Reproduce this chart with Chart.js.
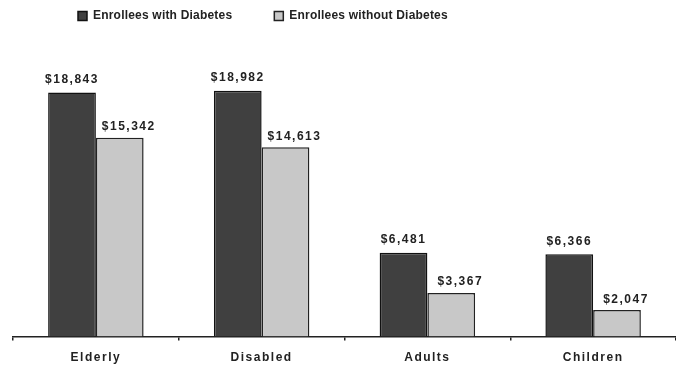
<!DOCTYPE html>
<html>
<head>
<meta charset="utf-8">
<script src="https://cdn.jsdelivr.net/npm/chart.js@4/dist/chart.umd.min.js"></script>
<style>
  html, body { margin: 0; padding: 0; background: #fff; }
  #wrap { width: 676px; height: 368px; position: relative; }
</style>
</head>
<body>
<div id="wrap"><canvas id="c"></canvas></div>
<script>
const categories = ["Elderly", "Disabled", "Adults", "Children"];
const seriesNames = ["Enrollees with Diabetes", "Enrollees without Diabetes"];
const withDiabetes = [18843, 18982, 6481, 6366];
const withoutDiabetes = [15342, 14613, 3367, 2047];

const FONT = "Arial, 'Liberation Sans', sans-serif";

// label placement per series: [horizontal shift, gap above bar]
const labelShift = [[0, 9.5], [9, 7.5]];

const spacingPlugin = {
  id: 'spacing',
  beforeUpdate(chart) { chart.ctx.letterSpacing = '0.2px'; },
  beforeDraw(chart) { chart.ctx.letterSpacing = '0.2px'; },
  afterLayout(chart) {
    const lg = chart.legend;
    if (lg) { lg.left = 36; lg.top = -32; }
  },
  afterDatasetsDraw(chart) {
    const ctx = chart.ctx;
    ctx.save();
    ctx.letterSpacing = '1.5px';
    ctx.font = "bold 12px " + FONT;
    ctx.fillStyle = '#222';
    ctx.textAlign = 'center';
    ctx.textBaseline = 'alphabetic';
    chart.data.datasets.forEach((ds, di) => {
      const meta = chart.getDatasetMeta(di);
      const [dx, gap] = labelShift[di];
      meta.data.forEach((el, i) => {
        const v = ds.data[i];
        const txt = '$' + v.toLocaleString('en-US');
        ctx.fillText(txt, el.x + dx, el.y - gap);
      });
    });
    ctx.restore();
    ctx.letterSpacing = '1.5px';
  }
};

new Chart(document.getElementById('c'), {
  type: 'bar',
  data: {
    labels: categories,
    datasets: [
      { label: seriesNames[0], data: withDiabetes, backgroundColor: '#404040', borderColor: '#111', borderWidth: 1.5 },
      { label: seriesNames[1], data: withoutDiabetes, backgroundColor: '#c8c8c8', borderColor: '#222', borderWidth: 1.5 }
    ]
  },
  options: {
    responsive: true,
    maintainAspectRatio: false,
    animation: false,
    devicePixelRatio: 1,
    layout: { padding: { left: 13, right: -3, top: 13.5, bottom: -7 } },
    datasets: { bar: { categoryPercentage: 0.576, barPercentage: 1 } },
    plugins: {
      legend: {
        position: 'top',
        align: 'start',
        labels: {
          boxWidth: 9,
          boxHeight: 9,
          padding: 42,
          color: '#222',
          font: { family: FONT, size: 12, weight: 'bold' }
        }
      },
      tooltip: { enabled: false }
    },
    scales: {
      x: {
        offset: true,
        grid: { display: true, offset: true, drawOnChartArea: false, drawTicks: true, tickLength: 4, color: '#222', lineWidth: 1.5 },
        border: { display: true, color: '#222', width: 1.5 },
        ticks: { color: '#222', padding: 10, z: 1, font: { family: FONT, size: 12, weight: 'bold' } }
      },
      y: {
        display: false,
        min: 0,
        max: 20000
      }
    }
  },
  plugins: [spacingPlugin]
});
</script>
</body>
</html>
